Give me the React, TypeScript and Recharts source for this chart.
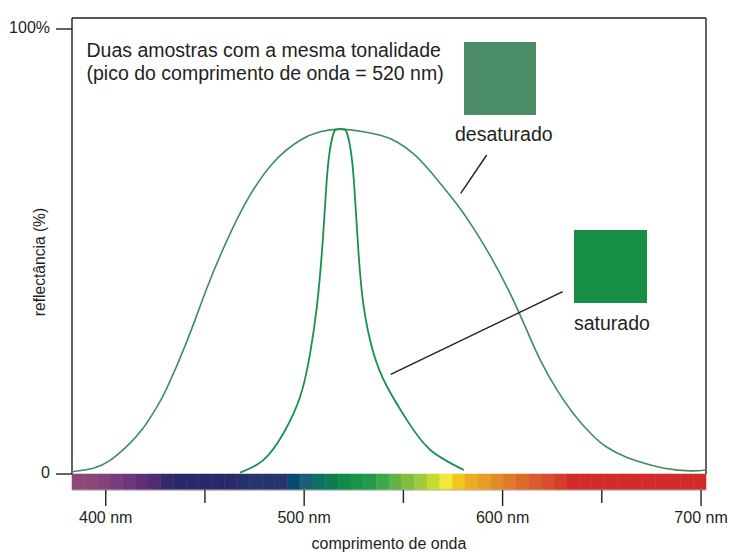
import React from 'react';
import { LineChart, Line, XAxis, YAxis, ReferenceLine, ReferenceArea } from 'recharts';

// axis extents (nm and %); the strip below 0 holds the spectrum bar
const WAVE_MIN = 383;
const WAVE_MAX = 702.5;
const PCT_MIN = -3.6;
const PCT_MAX = 102.47;

const xTicks = [400, 450, 500, 550, 600, 650, 700];
const yTicks = [0, 100];

// desaturated sample: broad reflectance curve
const broadNm = [383, 393.7, 402, 410.6, 418.7, 425.7, 430.8, 440.9, 451, 461.1, 471.2, 484.3, 498, 508, 518, 529.8, 540, 546.8, 555, 562, 568.6, 577, 585.4, 593.8, 602.2, 607.3, 612.3, 619, 627.4, 635.8, 644.2, 652.6, 662.7, 669.4, 681.5, 694.9, 702.5];
const broadPct = [0.5, 1.3, 3.0, 6.2, 10.2, 15.0, 19.3, 29.8, 41.8, 52.5, 61.5, 69.9, 75.0, 76.9, 77.5, 76.9, 75.9, 74.6, 72.0, 68.8, 65.3, 60.6, 55.2, 49.0, 42.0, 37.2, 32.2, 25.6, 18.9, 13.5, 9.2, 6.0, 3.7, 2.7, 1.3, 0.7, 0.9];

// saturated sample: narrow reflectance curve
const narrowNm = [467.7, 479.4, 489.5, 498, 503, 506.4, 508.9, 510.6, 512.3, 514.8, 516.5, 518.2, 520, 521.6, 524.1, 525.8, 527.4, 530, 535, 541.8, 551.8, 563.6, 580.5];
const narrowPct = [0.3, 3.1, 9.1, 17.4, 27.1, 37.6, 49.6, 60.8, 70.6, 76.6, 77.4, 77.6, 77.4, 76.6, 70.6, 60.8, 49.6, 37.6, 27.1, 19.6, 12.1, 5.4, 0.9];

// visible spectrum strip, left to right
const spectrumColors = [
  '#8E4878', '#8A4679', '#84427A', '#7A3C7A', '#6D357A', '#602E77', '#522A73', '#342A6B',
  '#29286A', '#29286A', '#29286A', '#29286A', '#29286A',
  '#27306B', '#26346C', '#26346C', '#26346C',
  '#064B73', '#1B5F70', '#0F6F62', '#107A55', '#0F8A48', '#17954A', '#229A4A', '#3BA84A',
  '#62B245', '#83BD3F', '#A0C93B', '#C6DA31', '#F1E83A', '#F1C71F', '#EBAE22', '#E89E24',
  '#E38B26', '#E07A29', '#DD6A29', '#DA5C2A', '#D84E2A', '#D53F2A',
  '#D22B2A', '#D22B2A', '#D22B2A', '#D22B2A', '#D22B2A', '#D22B2A', '#D22B2A', '#D22B2A',
  '#D22B2A', '#D22B2A', '#D22B2A',
];

const broadData = broadNm.map((nm, i) => ({ nm, pct: broadPct[i] }));
const narrowData = narrowNm.map((nm, i) => ({ nm, pct: narrowPct[i] }));
const segWidth = (WAVE_MAX - WAVE_MIN) / spectrumColors.length;

const INK = '#231F20';
const FONT = '"Liberation Sans", Arial, sans-serif';

const WaveTick = (props: any) => {
  const { x, y, payload } = props;
  const major = payload.value % 100 === 0;
  return (
    <g>
      <line x1={x} x2={x} y1={y} y2={y + (major ? 16 : 13)} stroke={INK} strokeWidth={1.4} />
      {major && (
        <text x={x} y={y + 33} textAnchor="middle" fontSize={16} fill={INK} fontFamily={FONT}>
          {`${payload.value} nm`}
        </text>
      )}
    </g>
  );
};

const PctTick = (props: any) => {
  const { x, y, payload } = props;
  return (
    <text x={x} y={y + 4} textAnchor="end" fontSize={16} fill={INK} fontFamily={FONT}>
      {payload.value === 100 ? '100%' : '0'}
    </text>
  );
};

const frame = { stroke: INK, strokeWidth: 1.4, ifOverflow: 'visible' as const };

export default function App() {
  return (
    <div style={{ position: 'absolute', left: 0, top: 0, width: 729, height: 552, background: '#fff', fontFamily: FONT }}>
      <LineChart width={729} height={552} margin={{ top: 18, right: 23, bottom: 0, left: 0 }}>
        <XAxis
          type="number"
          dataKey="nm"
          domain={[WAVE_MIN, WAVE_MAX]}
          ticks={xTicks}
          allowDataOverflow
          height={62}
          tickLine={false}
          tickSize={0}
          tickMargin={0}
          axisLine={{ stroke: '#B5B5B5', strokeWidth: 1 }}
          tick={<WaveTick />}
        />
        <YAxis
          type="number"
          domain={[PCT_MIN, PCT_MAX]}
          ticks={yTicks}
          allowDataOverflow
          width={72}
          axisLine={false}
          tickSize={16}
          tickMargin={6}
          tickLine={{ stroke: INK, strokeWidth: 1.4 }}
          tick={<PctTick />}
        />
        {spectrumColors.map((c, i) => (
          <ReferenceArea
            key={i}
            x1={WAVE_MIN + i * segWidth}
            x2={WAVE_MIN + (i + 1) * segWidth}
            y1={PCT_MIN}
            y2={0}
            fill={c}
            fillOpacity={1}
            stroke={c}
            strokeWidth={0.5}
            ifOverflow="visible"
          />
        ))}
        <ReferenceLine segment={[{ x: WAVE_MIN, y: 0 }, { x: WAVE_MIN, y: PCT_MAX }]} {...frame} />
        <ReferenceLine segment={[{ x: WAVE_MIN, y: PCT_MAX }, { x: WAVE_MAX, y: PCT_MAX }]} {...frame} />
        <ReferenceLine segment={[{ x: WAVE_MAX, y: 0 }, { x: WAVE_MAX, y: PCT_MAX }]} {...frame} />
        <Line
          data={broadData}
          dataKey="pct"
          type="natural"
          stroke="#3F8D60"
          strokeWidth={1.6}
          dot={false}
          isAnimationActive={false}
        />
        <Line
          data={narrowData}
          dataKey="pct"
          type="natural"
          stroke="#17924A"
          strokeWidth={1.8}
          dot={false}
          isAnimationActive={false}
        />
      </LineChart>
      <svg width={729} height={552} style={{ position: 'absolute', left: 0, top: 0, pointerEvents: 'none' }}>
        <g fontFamily={FONT} fill={INK}>
          <text x={86.5} y={57} fontSize={19.5}>Duas amostras com a mesma tonalidade</text>
          <text x={86.5} y={80} fontSize={19.5}>(pico do comprimento de onda = 520 nm)</text>
          <rect x={464} y={42} width={72} height={73} fill="#4A8C66" />
          <text x={455} y={141} fontSize={19.5}>desaturado</text>
          <line x1={486.7} y1={155} x2={460.7} y2={193.3} stroke={INK} strokeWidth={1.4} />
          <rect x={574} y={230} width={73} height={73} fill="#168E46" />
          <text x={574} y={330} fontSize={19.5}>saturado</text>
          <line x1={562.7} y1={291.7} x2={390.7} y2={374.3} stroke={INK} strokeWidth={1.4} />
          <text x={389} y={548.5} fontSize={16} textAnchor="middle">comprimento de onda</text>
          <text x={45} y={262} fontSize={15.6} textAnchor="middle" transform="rotate(-90 45 262)">
            reflectância (%)
          </text>
        </g>
      </svg>
    </div>
  );
}
